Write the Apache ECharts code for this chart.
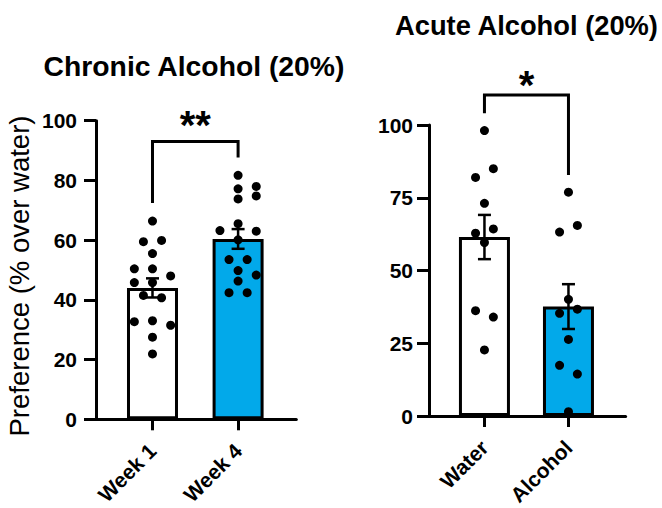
<!DOCTYPE html>
<html>
<head>
<meta charset="utf-8">
<script src="https://cdn.jsdelivr.net/npm/echarts@6/dist/echarts.min.js"></script>
<style>
html,body{margin:0;padding:0;background:#fff;}
#c{width:662px;height:508px;}
</style>
</head>
<body>
<div id="c"></div>
<script>
// ---- data ----
const chronicCats = ['Week 1', 'Week 4'];
const chronicMeans = [44.0, 60.4];
const chronicSem = [3.2, 3.3];
const week1Vals = [66.4, 59.5, 59.9, 55.5, 50.4, 50.4, 48.0, 45.8, 45.8, 41.5, 40.7, 32.7, 33.0, 31.5, 27.5, 21.9];
const week1Cols = [0, -1, 1, 0, -2, 0, 2, -2, 0, -1, 1, -2, 0, 2, 0, 0];
const week4Vals = [81.7, 77.2, 78.0, 73.8, 74.8, 65.5, 63.2, 63.0, 60.1, 53.5, 53.5, 49.8, 48.3, 46.3, 42.4, 42.4];
const week4Cols = [0, 0, 2, 0, 2, 0, -2, 2, 0, -1, 1, 0, 2, 0, -1, 1];
const chronicTicks = [0, 20, 40, 60, 80, 100];

const acuteCats = ['Water', 'Alcohol'];
const acuteMeans = [61.5, 37.6];
const acuteSem = [7.6, 7.7];
const waterVals = [98.1, 85.0, 82.0, 73.1, 64.3, 62.8, 59.6, 36.2, 34.0, 22.7];
const waterCols = [0, 1, -1, 0, 1, -1, 0, -1, 1, 0];
const alcoholVals = [76.9, 65.5, 63.2, 40.1, 35.3, 36.7, 26.3, 17.4, 14.4, 1.5];
const alcoholCols = [0, 1, -1, 0, -1, 1, 0, -1, 1, 0];
const acuteTicks = [0, 25, 50, 75, 100];

// significance: [xFrom, xTo, top, leftEnd, rightEnd], label height
const chronicSig = {label: '**', bracket: [1, 2, 93.0, 72.4, 87.7], labelY: 98.5};
const acuteSig = {label: '*', bracket: [1, 2, 110.3, 104.0, 82.8], labelY: 113.6};

// ---- styling ----
const FONT = "'Liberation Sans', Arial, Helvetica, sans-serif";
const BLUE = '#02A9EA';
const JIT = 0.106;

function dots(vals, cols, cat) {
  return vals.map((v, i) => [cat + cols[i] * JIT, v]);
}

function xAxisFor(gridIndex, cats) {
  return {
    gridIndex, type: 'value', min: 0.34, max: 2.68,
    splitLine: {show: false},
    axisLine: {show: true, onZero: false, lineStyle: {color: '#000', width: 3}},
    axisTick: {show: true, customValues: [1, 2], length: 11, lineStyle: {color: '#000', width: 3}},
    axisLabel: {
      customValues: [1, 2], rotate: 45, margin: 28,
      formatter: v => cats[Math.round(v) - 1] || '',
      color: '#000', fontFamily: FONT, fontWeight: 'bold', fontSize: 21
    }
  };
}
function yAxisFor(gridIndex, ticks, margin) {
  return {
    gridIndex, type: 'value', min: ticks[0], max: ticks[ticks.length - 1],
    interval: ticks[1] - ticks[0],
    splitLine: {show: false},
    axisLine: {show: true, lineStyle: {color: '#000', width: 3}},
    axisTick: {show: true, length: 12, lineStyle: {color: '#000', width: 3}},
    axisLabel: {margin, color: '#000', fontFamily: FONT, fontWeight: 'bold', fontSize: 21}
  };
}

function barSeries(idx, means) {
  return {
    type: 'bar', xAxisIndex: idx, yAxisIndex: idx, barWidth: 51, z: 2,
    data: means.map((m, i) => ({value: [i + 1, m], itemStyle: {color: i === 0 ? '#fff' : BLUE}})),
    itemStyle: {borderColor: '#000', borderWidth: 3}
  };
}
function scatterSeries(idx, data) {
  return {
    type: 'scatter', xAxisIndex: idx, yAxisIndex: idx, symbolSize: 9, z: 3,
    itemStyle: {color: '#000', opacity: 1}, data
  };
}
function errSeries(idx, means, sem) {
  return {
    type: 'custom', xAxisIndex: idx, yAxisIndex: idx, z: 4,
    data: means.map((m, i) => [i + 1, m, sem[i]]),
    renderItem: (params, api) => {
      const x = api.value(0), m = api.value(1), s = api.value(2);
      const t = api.coord([x, m + s]), b = api.coord([x, m - s]);
      const w = 6.5, st = {stroke: '#000', lineWidth: 2.5};
      return {type: 'group', children: [
        {type: 'line', shape: {x1: t[0], y1: t[1], x2: b[0], y2: b[1]}, style: st},
        {type: 'line', shape: {x1: t[0] - w, y1: t[1], x2: t[0] + w, y2: t[1]}, style: st},
        {type: 'line', shape: {x1: b[0] - w, y1: b[1], x2: b[0] + w, y2: b[1]}, style: st}
      ]};
    }
  };
}
function sigSeries(idx, sig) {
  return {
    type: 'custom', xAxisIndex: idx, yAxisIndex: idx, z: 5, clip: false,
    data: [sig.bracket.concat([sig.labelY])],
    renderItem: (params, api) => {
      const x1 = api.value(0), x2 = api.value(1), top = api.value(2), l = api.value(3), r = api.value(4), ly = api.value(5);
      const p = [api.coord([x1, l]), api.coord([x1, top]), api.coord([x2, top]), api.coord([x2, r])];
      const c = api.coord([(x1 + x2) / 2, ly]);
      return {type: 'group', children: [
        {type: 'polyline', shape: {points: p}, style: {stroke: '#000', lineWidth: 3, fill: null}},
        {type: 'text', x: c[0], y: c[1], style: {text: sig.label, fill: '#000',
          font: 'bold 40px ' + FONT, align: 'center', verticalAlign: 'middle'}}
      ]};
    }
  };
}

const chart = echarts.init(document.getElementById('c'), null, {renderer: 'svg'});
chart.setOption({
  animation: false,
  backgroundColor: '#fff',
  grid: [
    {left: 96, top: 120.7, width: 200.3, height: 298.6},
    {left: 429, top: 125, width: 196.6, height: 291}
  ],
  xAxis: [xAxisFor(0, chronicCats), xAxisFor(1, acuteCats)],
  yAxis: [yAxisFor(0, chronicTicks, 19), yAxisFor(1, acuteTicks, 16)],
  graphic: [
    {type: 'text', x: 194, y: 66, style: {text: 'Chronic Alcohol (20%)', font: 'bold 28.3px ' + FONT, fill: '#000', align: 'center', verticalAlign: 'middle'}},
    {type: 'text', x: 526.5, y: 25, style: {text: 'Acute Alcohol (20%)', font: 'bold 27.3px ' + FONT, fill: '#000', align: 'center', verticalAlign: 'middle'}},
    {type: 'text', x: 19, y: 276, rotation: Math.PI / 2, style: {text: 'Preference (% over water)', font: '27.5px ' + FONT, fill: '#000', align: 'center', verticalAlign: 'middle'}}
  ],
  series: [
    barSeries(0, chronicMeans),
    scatterSeries(0, dots(week1Vals, week1Cols, 1).concat(dots(week4Vals, week4Cols, 2))),
    errSeries(0, chronicMeans, chronicSem),
    sigSeries(0, chronicSig),
    barSeries(1, acuteMeans),
    scatterSeries(1, dots(waterVals, waterCols, 1).concat(dots(alcoholVals, alcoholCols, 2))),
    errSeries(1, acuteMeans, acuteSem),
    sigSeries(1, acuteSig)
  ]
});
</script>
</body>
</html>
